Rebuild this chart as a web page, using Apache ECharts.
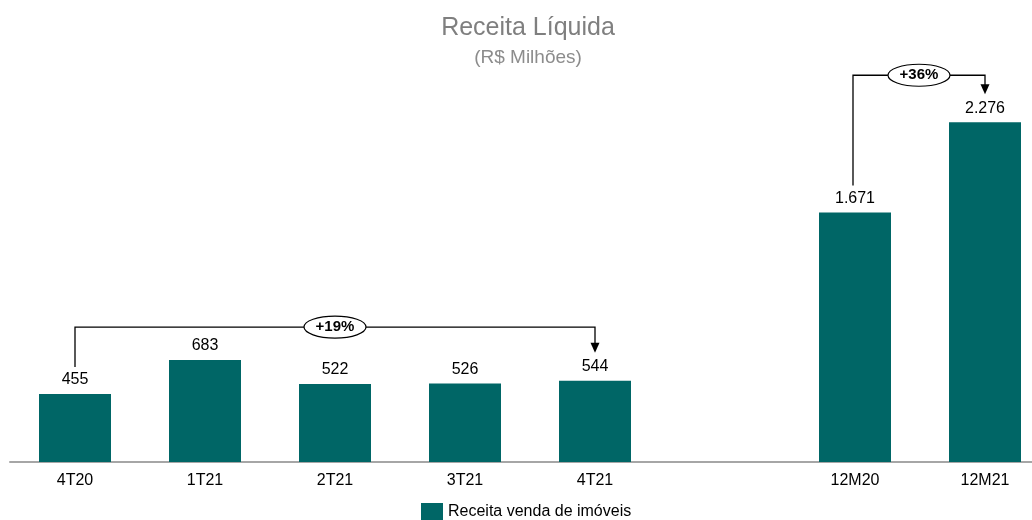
<!DOCTYPE html>
<html>
<head>
<meta charset="utf-8">
<script src="https://cdn.jsdelivr.net/npm/echarts@6/dist/echarts.min.js"></script>
<style>
html, body { margin: 0; padding: 0; background: #fff; }
#chart { width: 1032px; height: 520px; }
</style>
</head>
<body>
<div id="chart"></div>
<script>
var categories = ['4T20', '1T21', '2T21', '3T21', '4T21', '', '12M20', '12M21'];
var receita = [455, 683, 522, 526, 544, '-', 1671, 2276];
// comparações: [índice inicial, índice final, texto]
var comparisons = [[0, 4, '+19%'], [6, 7, '+36%']];

var font = 'Arial, "Liberation Sans", sans-serif';

function fmtBR(v) {
    return String(v).replace(/\B(?=(\d{3})+(?!\d))/g, '.');
}

var myChart = echarts.init(document.getElementById('chart'));
var option = {
    animation: false,
    title: {
        text: 'Receita Líquida',
        subtext: '(R$ Milhões)',
        left: 523,
        textAlign: 'center',
        top: 11,
        itemGap: 7,
        textStyle: { fontFamily: font, fontSize: 25, fontWeight: 'normal', color: '#7f7f7f' },
        subtextStyle: { fontFamily: font, fontSize: 19, color: '#8c8c8c' }
    },
    legend: {
        bottom: 0,
        left: 421,
        padding: 0,
        icon: 'rect',
        itemWidth: 22,
        itemHeight: 17,
        itemGap: 6,
        textStyle: { fontFamily: font, fontSize: 16, color: '#000' },
        data: ['Receita venda de imóveis']
    },
    grid: { left: 10, width: 1040, top: 44, bottom: 58, outerBoundsMode: 'none' },
    xAxis: {
        type: 'category',
        data: categories,
        axisLine: { lineStyle: { color: '#a6a6a6', width: 2 } },
        axisTick: { show: false },
        axisLabel: { fontFamily: font, fontSize: 16, color: '#000', margin: 11 }
    },
    yAxis: {
        type: 'value',
        min: 0,
        max: 2800,
        show: false,
        splitLine: { show: false }
    },
    series: [{
        name: 'Receita venda de imóveis',
        type: 'bar',
        barWidth: 72,
        data: receita,
        itemStyle: { color: '#006666' },
        label: {
            show: true,
            position: 'top',
            distance: 6,
            fontFamily: font,
            fontSize: 16,
            color: '#000',
            formatter: function (p) { return fmtBR(p.value); }
        }
    }]
};
myChart.setOption(option);

// colchetes de variação
var graphics = [];
for (var i = 0; i < comparisons.length; i++) {
    var a = comparisons[i][0], b = comparisons[i][1], txt = comparisons[i][2];
    var xa = myChart.convertToPixel({ xAxisIndex: 0 }, categories[a]);
    var xb = myChart.convertToPixel({ xAxisIndex: 0 }, categories[b]);
    if (i === 1) xa -= 2;
    var ya = myChart.convertToPixel({ yAxisIndex: 0 }, receita[a]) - 27;
    var yb = myChart.convertToPixel({ yAxisIndex: 0 }, receita[b]) - 28;
    var maxV = 0;
    for (var k = a; k <= b; k++) if (typeof receita[k] === 'number' && receita[k] > maxV) maxV = receita[k];
    var yTop = myChart.convertToPixel({ yAxisIndex: 0 }, maxV) - (i === 0 ? 33 : 47);
    var lineStyle = { stroke: '#000', lineWidth: 1.3, fill: null };
    graphics.push({
        type: 'polyline',
        shape: { points: [[xa, ya], [xa, yTop], [xb, yTop], [xb, yb - 9]] },
        style: lineStyle
    });
    graphics.push({
        type: 'polygon',
        shape: { points: [[xb - 4.5, yb - 10], [xb + 4.5, yb - 10], [xb, yb]] },
        style: { fill: '#000' }
    });
    var cx = (xa + xb) / 2;
    if (i === 0) cx = myChart.convertToPixel({ xAxisIndex: 0 }, categories[2]);
    graphics.push({
        type: 'ellipse',
        shape: { cx: cx, cy: yTop, rx: 31, ry: 11 },
        style: { fill: '#fff', stroke: '#000', lineWidth: 1.2 }
    });
    graphics.push({
        type: 'text',
        x: cx,
        y: yTop,
        style: {
            text: txt,
            fill: '#000',
            font: 'bold 15px ' + font,
            align: 'center',
            verticalAlign: 'middle'
        }
    });
}
myChart.setOption({ graphic: graphics });
</script>
</body>
</html>
